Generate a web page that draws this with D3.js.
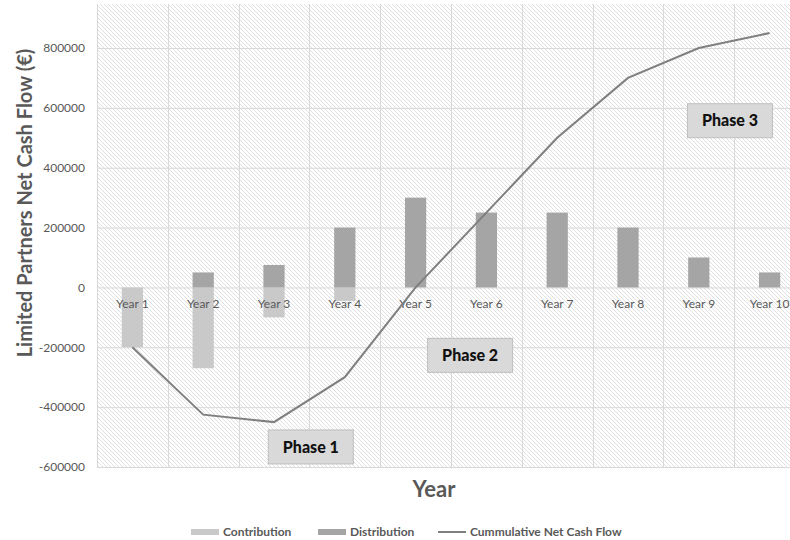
<!DOCTYPE html>
<meta charset="utf-8">
<script src="https://d3js.org/d3.v7.min.js"></script>
<style>
body { margin: 0; padding: 0; background: #fff; }
text { font-family: Lato, 'Open Sans', sans-serif; }
</style>
<body>
<div id="my_dataviz"></div>
<script>

// data
var years = ["Year 1", "Year 2", "Year 3", "Year 4", "Year 5", "Year 6", "Year 7", "Year 8", "Year 9", "Year 10"];
var contribution = [-200000, -270000, -100000, -45000, 0, 0, 0, 0, 0, 0];
var distribution = [0, 50000, 75000, 200000, 300000, 250000, 250000, 200000, 100000, 50000];
var cumulative = [-200000, -425000, -450000, -300000, 0, 250000, 500000, 700000, 800000, 850000];
var yTicks = [-600000, -400000, -200000, 0, 200000, 400000, 600000, 800000];
var phases = ["Phase 1", "Phase 2", "Phase 3"];
var phaseAt = [[3.02, -533000], [5.27, -227000], [8.94, 557000]]; // [steps from plot left, value] of box centres

var width = 790, height = 540;
var plot = {left: 97, right: 805, top: 4, bottom: 467};

var svg = d3.select("#my_dataviz")
  .append("svg")
    .attr("width", width)
    .attr("height", height);

var x = d3.scaleBand()
  .domain(years)
  .range([plot.left, plot.right]);

var y = d3.scaleLinear()
  .domain([-600000, 800000])
  .range([plot.bottom, 48]);

// hatch background
var defs = svg.append("defs");
var pat = defs.append("pattern")
  .attr("id", "hatch")
  .attr("patternUnits", "userSpaceOnUse")
  .attr("width", 4).attr("height", 4);
pat.append("rect").attr("width", 4).attr("height", 4).attr("fill", "#fff");
pat.append("path")
  .attr("d", "M-1,-1 L5,5 M-1,3 L1,5 M3,-1 L5,1")
  .attr("stroke", "#e0e0e0")
  .attr("stroke-width", 1);

svg.append("rect")
  .attr("x", plot.left).attr("y", plot.top)
  .attr("width", plot.right - plot.left)
  .attr("height", plot.bottom - plot.top)
  .attr("fill", "url(#hatch)");

// grid lines
svg.append("g").selectAll("line")
  .data(yTicks)
  .enter().append("line")
    .attr("x1", plot.left).attr("x2", plot.right)
    .attr("y1", function(d){ return y(d) + 0.5 })
    .attr("y2", function(d){ return y(d) + 0.5 })
    .attr("stroke", "#d9d9d9");

svg.append("g").selectAll("line")
  .data(years.concat(["end"]))
  .enter().append("line")
    .attr("x1", function(d, i){ return Math.round(plot.left + i * x.step()) + 0.5 })
    .attr("x2", function(d, i){ return Math.round(plot.left + i * x.step()) + 0.5 })
    .attr("y1", plot.top).attr("y2", plot.bottom)
    .attr("stroke", "#d9d9d9");

// y axis labels
var yAxis = svg.append("g")
  .attr("transform", "translate(" + plot.left + ",0)")
  .call(d3.axisLeft(y).tickValues(yTicks).tickFormat(function(d){ return String(d) }).tickSize(0).tickPadding(12));
yAxis.select(".domain").remove();
yAxis.selectAll("text")
  .attr("fill", "#595959")
  .style("font-size", "12px")
  .style("font-family", "Lato, 'Open Sans', sans-serif");

// bars
var barW = x.bandwidth() * 0.3;
svg.append("g").selectAll("rect")
  .data(contribution)
  .enter().append("rect")
    .attr("x", function(d, i){ return x(years[i]) + (x.bandwidth() - barW) / 2 })
    .attr("y", function(d){ return y(Math.max(0, d)) })
    .attr("width", barW)
    .attr("height", function(d){ return Math.abs(y(d) - y(0)) })
    .attr("fill", "#c9c9c9");

svg.append("g").selectAll("rect")
  .data(distribution)
  .enter().append("rect")
    .attr("x", function(d, i){ return x(years[i]) + (x.bandwidth() - barW) / 2 })
    .attr("y", function(d){ return y(Math.max(0, d)) })
    .attr("width", barW)
    .attr("height", function(d){ return Math.abs(y(d) - y(0)) })
    .attr("fill", "#a5a5a5");

// category labels sit under the zero line
svg.append("g").selectAll("text")
  .data(years)
  .enter().append("text")
    .attr("x", function(d){ return x(d) + x.bandwidth() / 2 })
    .attr("y", y(0) + 21)
    .attr("text-anchor", "middle")
    .attr("fill", "#595959")
    .style("font-size", "12px")
    .text(function(d){ return d });

// cumulative line
var line = d3.line()
  .x(function(d, i){ return x(years[i]) + x.bandwidth() / 2 })
  .y(function(d){ return y(d) });

svg.append("path")
  .datum(cumulative)
  .attr("d", line)
  .attr("fill", "none")
  .attr("stroke", "#7f7f7f")
  .attr("stroke-width", 2);

// phase boxes
var boxW = 85, boxH = 34;
var pg = svg.append("g").selectAll("g")
  .data(phases)
  .enter().append("g")
    .attr("transform", function(d, i){
      var cx = plot.left + phaseAt[i][0] * x.step();
      var cy = y(phaseAt[i][1]);
      return "translate(" + cx + "," + cy + ")";
    });
pg.append("rect")
  .attr("x", -boxW / 2).attr("y", -boxH / 2)
  .attr("width", boxW).attr("height", boxH)
  .attr("fill", "#d9d9d9")
  .attr("stroke", "#bfbfbf");
pg.append("text")
  .attr("text-anchor", "middle")
  .attr("dy", "0.35em")
  .attr("fill", "#111")
  .style("font-size", "16px")
  .style("font-weight", "900")
  .text(function(d){ return d });

// axis titles
svg.append("text")
  .attr("transform", "translate(32,203) rotate(-90)")
  .attr("text-anchor", "middle")
  .attr("fill", "#595959")
  .style("font-size", "20px")
  .style("font-weight", "bold")
  .text("Limited Partners Net Cash Flow (€)");

svg.append("text")
  .attr("x", 434)
  .attr("y", 497)
  .attr("text-anchor", "middle")
  .attr("fill", "#595959")
  .style("font-size", "22px")
  .style("font-weight", "bold")
  .text("Year");

// legend
var legendItems = ["Contribution", "Distribution", "Cummulative Net Cash Flow"];
var legendX = [191, 318, 438];
var legendColor = ["#c9c9c9", "#a5a5a5", "#7f7f7f"];
var lg = svg.append("g").selectAll("g")
  .data(legendItems)
  .enter().append("g")
    .attr("transform", function(d, i){ return "translate(" + legendX[i] + ",532)" });
lg.append("rect")
  .attr("y", function(d, i){ return i == 2 ? -1 : -3 })
  .attr("width", 28)
  .attr("height", function(d, i){ return i == 2 ? 2 : 6 })
  .attr("fill", function(d, i){ return legendColor[i] });
lg.append("text")
  .attr("x", 32)
  .attr("dy", "0.35em")
  .attr("fill", "#595959")
  .style("font-size", "12px")
  .style("font-weight", "bold")
  .text(function(d){ return d });

</script>
</body>
